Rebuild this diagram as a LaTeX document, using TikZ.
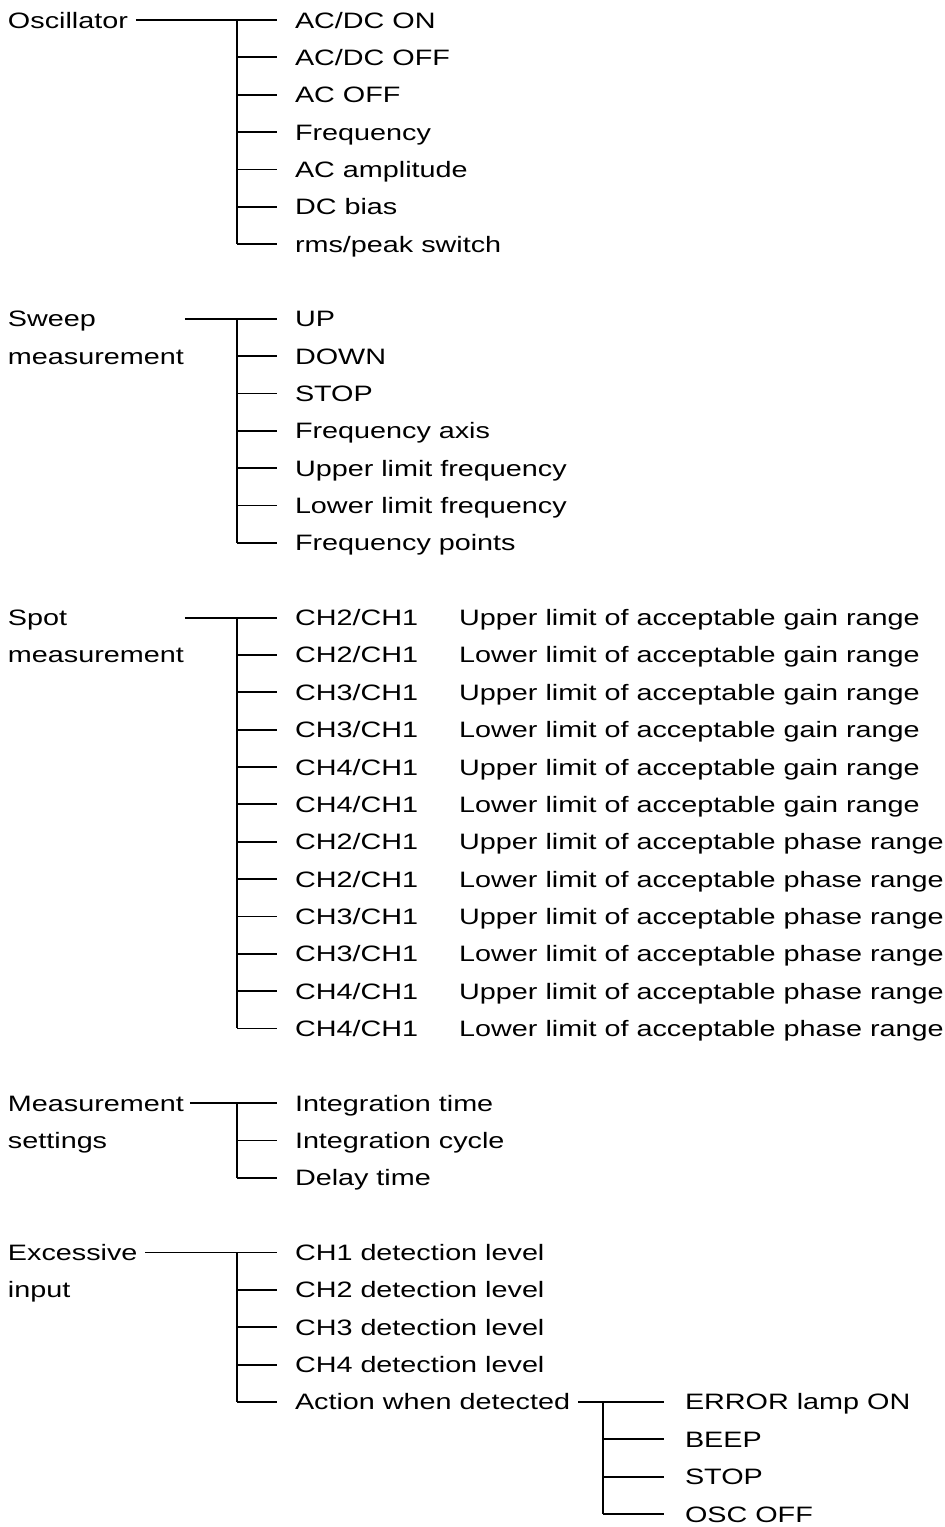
\documentclass[tikz,border=0pt]{standalone}
\usepackage{fontspec}
\setmainfont{Liberation Sans}[FakeStretch=1.29]
\tikzset{
  txt/.style={font=\fontsize{22.3}{37.35}\selectfont,inner sep=0pt},
  head/.style={txt,align=left,anchor=base west,outer xsep=8pt},
  leaf/.style={txt,text height=16pt,text depth=0pt,anchor=west,outer xsep=18pt},
  subleaf/.style={leaf,outer xsep=21pt},
  note/.style={txt,text height=16pt,text depth=0pt,anchor=west},
  branch/.style={line width=1.8pt,black}
}
\begin{document}
\begin{tikzpicture}[x=1pt,y=-1pt]
\useasboundingbox (0,0) rectangle (945,1527);

% Oscillator
\node[head] (osc) at (0,28)   {Oscillator};
\node[leaf] (o1) at (277,20)    {AC/DC ON};
\node[leaf] (o2) at (277,57.35) {AC/DC OFF};
\node[leaf] (o3) at (277,94.7)  {AC OFF};
\node[leaf] (o4) at (277,132.05) {Frequency};
\node[leaf] (o5) at (277,169.4) {AC amplitude};
\node[leaf] (o6) at (277,206.75) {DC bias};
\node[leaf] (o7) at (277,244.1) {rms/peak switch};
\coordinate (oj) at (237,20);

% Sweep measurement (base = last line)
\node[head] (swp) at (0,364.15) {Sweep\\measurement};
\node[leaf] (s1) at (277,318.8) {UP};
\node[leaf] (s2) at (277,356.15) {DOWN};
\node[leaf] (s3) at (277,393.5) {STOP};
\node[leaf] (s4) at (277,430.85) {Frequency axis};
\node[leaf] (s5) at (277,468.2) {Upper limit frequency};
\node[leaf] (s6) at (277,505.55) {Lower limit frequency};
\node[leaf] (s7) at (277,542.9) {Frequency points};
\coordinate (sj) at (237,318.8);

% Spot measurement
\node[head] (spot) at (0,662.95) {Spot\\measurement};
\node[leaf] (p1)  at (277,617.6)  {CH2/CH1};
\node[leaf] (p2)  at (277,654.95) {CH2/CH1};
\node[leaf] (p3)  at (277,692.3)  {CH3/CH1};
\node[leaf] (p4)  at (277,729.65) {CH3/CH1};
\node[leaf] (p5)  at (277,767)    {CH4/CH1};
\node[leaf] (p6)  at (277,804.35) {CH4/CH1};
\node[leaf] (p7)  at (277,841.7)  {CH2/CH1};
\node[leaf] (p8)  at (277,879.05) {CH2/CH1};
\node[leaf] (p9)  at (277,916.4)  {CH3/CH1};
\node[leaf] (p10) at (277,953.75) {CH3/CH1};
\node[leaf] (p11) at (277,991.1)  {CH4/CH1};
\node[leaf] (p12) at (277,1028.45) {CH4/CH1};
\node[note] (q1)  at (459,617.6)  {Upper limit of acceptable gain range};
\node[note] (q2)  at (459,654.95) {Lower limit of acceptable gain range};
\node[note] (q3)  at (459,692.3)  {Upper limit of acceptable gain range};
\node[note] (q4)  at (459,729.65) {Lower limit of acceptable gain range};
\node[note] (q5)  at (459,767)    {Upper limit of acceptable gain range};
\node[note] (q6)  at (459,804.35) {Lower limit of acceptable gain range};
\node[note] (q7)  at (459,841.7)  {Upper limit of acceptable phase range};
\node[note] (q8)  at (459,879.05) {Lower limit of acceptable phase range};
\node[note] (q9)  at (459,916.4)  {Upper limit of acceptable phase range};
\node[note] (q10) at (459,953.75) {Lower limit of acceptable phase range};
\node[note] (q11) at (459,991.1)  {Upper limit of acceptable phase range};
\node[note] (q12) at (459,1028.45) {Lower limit of acceptable phase range};
\coordinate (pj) at (237,617.6);

% Measurement settings
\node[head] (mset) at (0,1148.5) {Measurement\\settings};
\node[leaf] (m1) at (277,1103.15) {Integration time};
\node[leaf] (m2) at (277,1140.5)  {Integration cycle};
\node[leaf] (m3) at (277,1177.85) {Delay time};
\coordinate (mj) at (237,1103.15);

% Excessive input
\node[head] (exc) at (0,1297.9) {Excessive\\input};
\node[leaf] (e1) at (277,1252.55) {CH1 detection level};
\node[leaf] (e2) at (277,1289.9)  {CH2 detection level};
\node[leaf] (e3) at (277,1327.25) {CH3 detection level};
\node[leaf] (e4) at (277,1364.6)  {CH4 detection level};
\node[leaf] (e5) at (277,1401.95) {Action when detected};
\coordinate (ej) at (237,1252.55);

\node[subleaf] (a1) at (664,1401.95) {ERROR lamp ON};
\node[subleaf] (a2) at (664,1439.3)  {BEEP};
\node[subleaf] (a3) at (664,1476.65) {STOP};
\node[subleaf] (a4) at (664,1514)    {OSC OFF};
\coordinate (aj) at (603,1401.95);

% trunks
\draw[branch] (osc.east |- o1) -- (o1.west);
\draw[branch] (oj) -- (oj |- o7);
\draw[branch] ([xshift=-7pt]swp.east |- s1) -- (s1.west);
\draw[branch] (sj) -- (sj |- s7);
\draw[branch] ([xshift=-7pt]spot.east |- p1) -- (p1.west);
\draw[branch] (pj) -- (pj |- p12);
\draw[branch] ([xshift=-2pt]mset.east |- m1) -- (m1.west);
\draw[branch] (mj) -- (mj |- m3);
\draw[branch] (exc.east |- e1) -- (e1.west);
\draw[branch] (ej) -- (ej |- e5);
\draw[branch] ([xshift=-10pt]e5.east) -- (a1.west);
\draw[branch] (aj) -- (aj |- a4);

% branches
\draw[branch] (oj |- o2) -- (o2.west);
\draw[branch] (oj |- o3) -- (o3.west);
\draw[branch] (oj |- o4) -- (o4.west);
\draw[branch] (oj |- o5) -- (o5.west);
\draw[branch] (oj |- o6) -- (o6.west);
\draw[branch] (oj |- o7) -- (o7.west);
\draw[branch] (sj |- s2) -- (s2.west);
\draw[branch] (sj |- s3) -- (s3.west);
\draw[branch] (sj |- s4) -- (s4.west);
\draw[branch] (sj |- s5) -- (s5.west);
\draw[branch] (sj |- s6) -- (s6.west);
\draw[branch] (sj |- s7) -- (s7.west);
\draw[branch] (pj |- p2) -- (p2.west);
\draw[branch] (pj |- p3) -- (p3.west);
\draw[branch] (pj |- p4) -- (p4.west);
\draw[branch] (pj |- p5) -- (p5.west);
\draw[branch] (pj |- p6) -- (p6.west);
\draw[branch] (pj |- p7) -- (p7.west);
\draw[branch] (pj |- p8) -- (p8.west);
\draw[branch] (pj |- p9) -- (p9.west);
\draw[branch] (pj |- p10) -- (p10.west);
\draw[branch] (pj |- p11) -- (p11.west);
\draw[branch] (pj |- p12) -- (p12.west);
\draw[branch] (mj |- m2) -- (m2.west);
\draw[branch] (mj |- m3) -- (m3.west);
\draw[branch] (ej |- e2) -- (e2.west);
\draw[branch] (ej |- e3) -- (e3.west);
\draw[branch] (ej |- e4) -- (e4.west);
\draw[branch] (ej |- e5) -- (e5.west);
\draw[branch] (aj |- a2) -- (a2.west);
\draw[branch] (aj |- a3) -- (a3.west);
\draw[branch] (aj |- a4) -- (a4.west);

\end{tikzpicture}
\end{document}
